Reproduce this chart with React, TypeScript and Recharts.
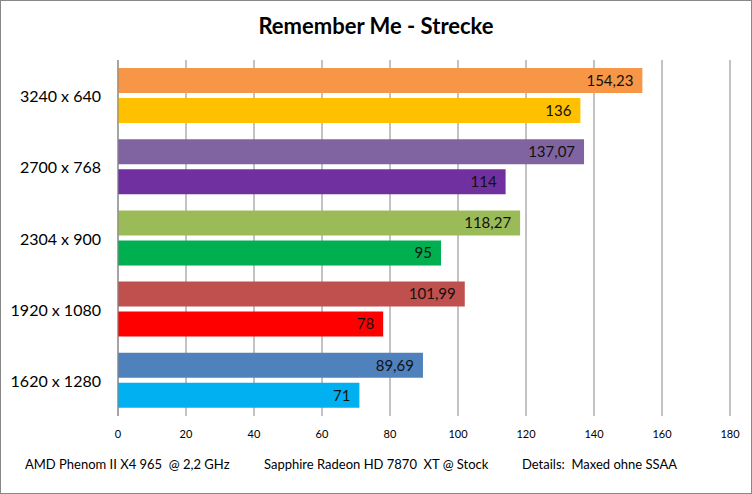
import { BarChart, Bar, XAxis, YAxis, CartesianGrid, Cell, LabelList } from "recharts";

const resolutions = ["3240 x 640", "2700 x 768", "2304 x 900", "1920 x 1080", "1620 x 1280"];
const upperFps = [154.23, 137.07, 118.27, 101.99, 89.69];
const lowerFps = [136, 114, 95, 78, 71];
const upperColors = ["#F79646", "#8064A2", "#9BBB59", "#C0504D", "#4F81BD"];
const lowerColors = ["#FFC000", "#7030A0", "#00B050", "#FF0000", "#00B0F0"];
const xTicks = [0, 20, 40, 60, 80, 100, 120, 140, 160, 180];
const footerNotes = [
  { text: "AMD Phenom II X4 965  @ 2,2 GHz", left: 25 },
  { text: "Sapphire Radeon HD 7870  XT @ Stock", left: 264 },
  { text: "Details:  Maxed ohne SSAA", left: 522 },
];

const FONT = "Lato, 'Open Sans', sans-serif";

const chartData = resolutions.map((name, i) => ({
  name,
  upper: upperFps[i],
  lower: lowerFps[i],
}));

// german decimal comma
const fmt = (v: any) => String(v).replace(".", ",");

const ResTick = (props: any) => {
  const { x, y, payload } = props;
  return (
    <text x={x - 9} y={y} textAnchor="end" dominantBaseline="central" fontSize={16} fill="#000" fontFamily={FONT}>
      {payload.value}
    </text>
  );
};

export default function App() {
  return (
    <div
      style={{
        position: "fixed",
        left: 0,
        top: 0,
        width: 752,
        height: 494,
        boxSizing: "border-box",
        border: "1px solid #888",
        background: "#fff",
        fontFamily: FONT,
      }}
    >
      <div
        style={{
          position: "absolute",
          left: 0,
          right: 0,
          top: 11,
          textAlign: "center",
          fontSize: 22,
          fontWeight: 700,
          color: "#000",
        }}
      >
        Remember Me - Strecke
      </div>
      <div style={{ position: "absolute", left: -1, top: -1 }}>
        <BarChart
          width={752}
          height={494}
          data={chartData}
          layout="vertical"
          margin={{ top: 60, right: 22, bottom: 48, left: 0 }}
          barSize={25}
          barGap={5}
        >
          <CartesianGrid horizontal={false} stroke="#868686" />
          <XAxis
            type="number"
            domain={[0, 180]}
            ticks={xTicks}
            axisLine={false}
            tickLine={false}
            tickSize={6}
            tickMargin={8}
            height={30}
            tick={{ fontSize: 11, fill: "#000", fontFamily: FONT }}
          />
          <YAxis
            type="category"
            dataKey="name"
            width={118}
            axisLine={{ stroke: "#868686" }}
            tickLine={false}
            tick={<ResTick />}
          />
          <Bar dataKey="upper" isAnimationActive={false}>
            {chartData.map((d, i) => (
              <Cell key={d.name} fill={upperColors[i]} />
            ))}
            <LabelList
              dataKey="upper"
              position="insideRight"
              offset={9}
              formatter={fmt}
              style={{ fontSize: 15, fill: "#111", fontFamily: FONT }}
            />
          </Bar>
          <Bar dataKey="lower" isAnimationActive={false}>
            {chartData.map((d, i) => (
              <Cell key={d.name} fill={lowerColors[i]} />
            ))}
            <LabelList
              dataKey="lower"
              position="insideRight"
              offset={9}
              formatter={fmt}
              style={{ fontSize: 15, fill: "#111", fontFamily: FONT }}
            />
          </Bar>
        </BarChart>
      </div>
      {footerNotes.map((n) => (
        <div
          key={n.text}
          style={{
            position: "absolute",
            left: n.left - 1,
            top: 455,
            fontSize: 13,
            color: "#000",
            whiteSpace: "pre",
          }}
        >
          {n.text}
        </div>
      ))}
    </div>
  );
}
